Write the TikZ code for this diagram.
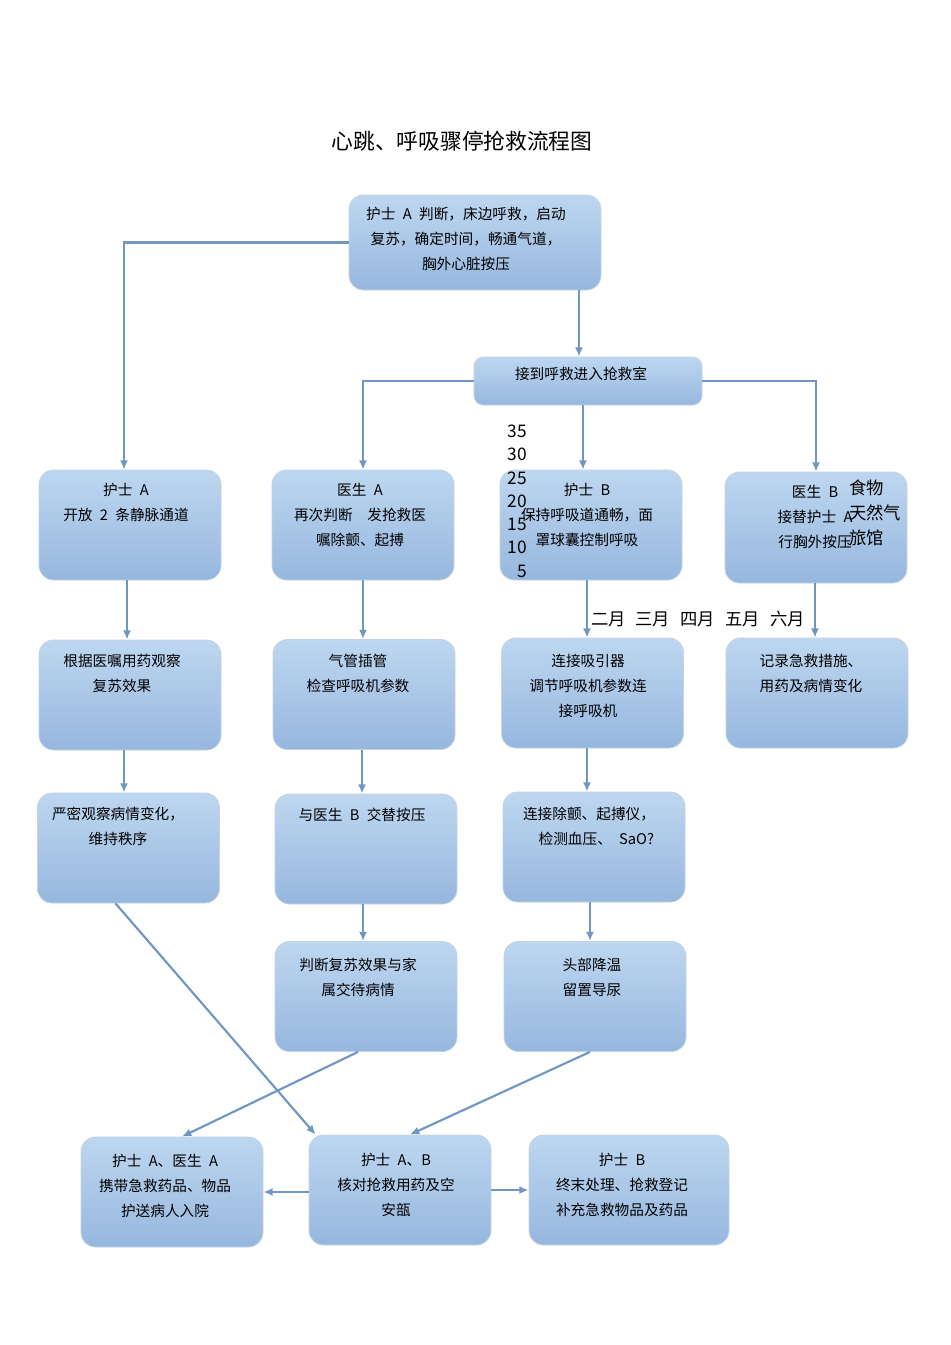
\documentclass[tikz,border=0pt]{standalone}
\usepackage{fontspec}
\setmainfont{Noto Sans CJK SC}
\usepackage{tikz}
\usetikzlibrary{arrows.meta,calc}

\definecolor{boxtop}{RGB}{190,215,240}
\definecolor{boxbot}{RGB}{150,183,222}
\definecolor{boxline}{RGB}{196,210,228}
\definecolor{arrline}{RGB}{112,150,194}

\tikzset{
  box/.style={draw=boxline,line width=0.6pt,rounded corners=11pt,top color=boxtop,bottom color=boxbot,
    minimum width=136.5pt,minimum height=82.5pt,inner sep=0pt},
  txt/.style={anchor=north,inner sep=0pt,align=center,font=\fontsize{11}{18.75}\selectfont},
  arr/.style={draw=arrline,line width=1.6pt,-{Latex[length=7pt,width=6pt]}},
  junk/.style={inner sep=0pt,font=\fontsize{13}{15}\selectfont}
}

\begin{document}
\begin{tikzpicture}[x=0.75pt,y=0.75pt,yscale=-1,xscale=1]
\useasboundingbox (0,0) rectangle (950,1345);
\fill[white] (0,0) rectangle (950,1345);

% Title
\node[inner sep=0pt,font=\fontsize{16.3}{18}\selectfont] (title) at (462,141) {心跳、呼吸骤停抢救流程图};

%Boxes
\node[box,minimum width=189pt,minimum height=71.25pt] (top) at (475,242.5) {};
\node[box,minimum width=171pt,minimum height=36pt,rounded corners=7pt] (mid) at (588,381) {};

\node[box] (a1) at (130,525) {};
\node[box] (b1) at (363,525) {};
\node[box] (c1) at (591,525) {};
\node[box,minimum height=83.25pt] (d1) at (816,527.5) {};

\node[box] (a2) at (130,695) {};
\node[box] (b2) at (364,694.5) {};
\node[box] (c2) at (592.5,693) {};
\node[box] (d2) at (817,693) {};

\node[box] (a3) at (128.5,848) {};
\node[box] (b3) at (366,849) {};
\node[box] (c3) at (594,847) {};

\node[box] (b4) at (366,996.5) {};
\node[box] (c4) at (595,996.5) {};

\node[box] (e1) at (172,1192) {};
\node[box] (e2) at (400,1190) {};
\node[box,minimum width=150pt] (e3) at (629,1190) {};

% Text Node
\node[txt] (ttop) at (466,207) {护士\enspace A\enspace 判断，床边呼救，启动\\复苏，确定时间，畅通气道，\\胸外心脏按压};
\node[txt] (tmid) at (581,367) {接到呼救进入抢救室};

\node[txt] (ta1) at (126,483) {护士\enspace A\\开放\enspace 2\enspace 条静脉通道};
\node[txt] (tb1) at (360,483) {医生\enspace A\\再次判断\quad 发抢救医\\嘱除颤、起搏};
\node[txt] (tc1) at (587,483) {护士\enspace B\\保持呼吸道通畅，面\\罩球囊控制呼吸};
\node[txt] (td1) at (815,485) {医生\enspace B\\接替护士\enspace A\\行胸外按压};

\node[txt] (ta2) at (122,654) {根据医嘱用药观察\\复苏效果};
\node[txt] (tb2) at (358,654) {气管插管\\检查呼吸机参数};
\node[txt] (tc2) at (588,654) {连接吸引器\\调节呼吸机参数连\\接呼吸机};
\node[txt] (td2) at (811,654) {记录急救措施、\\用药及病情变化};

\node[txt] (ta3) at (118,807) {严密观察病情变化，\\维持秩序};
\node[txt] (tb3) at (362,808) {与医生\enspace B\enspace 交替按压};
\node[txt] (tc3) at (589,807) {连接除颤、起搏仪，\\\quad 检测血压、\enspace SaO?};

\node[txt] (tb4) at (358,958) {判断复苏效果与家\\属交待病情};
\node[txt] (tc4) at (592,958) {头部降温\\留置导尿};

\node[txt] (te1) at (165,1154) {护士\enspace A、医生\enspace A\\携带急救药品、物品\\护送病人入院};
\node[txt] (te2) at (396,1153) {护士\enspace A、B\\核对抢救用药及空\\安瓿};
\node[txt] (te3) at (622,1153) {护士\enspace B\\终末处理、抢救登记\\补充急救物品及药品};

% Stray chart text
\node[junk,anchor=east] (n35) at (527,431) {35};
\node[junk,anchor=east] (n30) at (527,454) {30};
\node[junk,anchor=east] (n25) at (527,478) {25};
\node[junk,anchor=east] (n20) at (527,501) {20};
\node[junk,anchor=east] (n15) at (527,524) {15};
\node[junk,anchor=east] (n10) at (527,547) {10};
\node[junk,anchor=east] (n5) at (527,571) {5};

\node[junk,anchor=west] (m2) at (591,619) {二月};
\node[junk,anchor=west] (m3) at (635,619) {三月};
\node[junk,anchor=west] (m4) at (680,619) {四月};
\node[junk,anchor=west] (m5) at (725,619) {五月};
\node[junk,anchor=west] (m6) at (770,619) {六月};

\node[junk,anchor=west] (k1) at (849,488) {食物};
\node[junk,anchor=west] (k2) at (849,513) {天然气};
\node[junk,anchor=west] (k3) at (849,538) {旅馆};

%Connectors
\draw[arr] (top.west) -| ($(a1.north)+(-6,0)$);
\draw[arr] ($(top.south)+(104,0)$) -- ($(mid.north)+(-9,0)$);
\draw[arr] (mid.west) -| (b1.north);
\draw[arr] ($(mid.south)+(-5,0)$) -- ($(c1.north)+(-8,0)$);
\draw[arr] (mid.east) -| (d1.north);

\draw[arr] ($(a1.south)+(-3,0)$) -- ($(a2.north)+(-3,0)$);
\draw[arr] (b1.south) -- ($(b2.north)+(-1,0)$);
\draw[arr] ($(c1.south)+(-4,0)$) -- ($(c2.north)+(-5.5,0)$);
\draw[arr] ($(d1.south)+(-1,0)$) -- ($(d2.north)+(-2,0)$);

\draw[arr] ($(a2.south)+(-6,0)$) -- ($(a3.north)+(-4.5,0)$);
\draw[arr] ($(b2.south)+(-2,0)$) -- ($(b3.north)+(-4,0)$);
\draw[arr] ($(c2.south)+(-5.5,0)$) -- ($(c3.north)+(-7,0)$);

\draw[arr] ($(b3.south)+(-3,0)$) -- ($(b4.north)+(-3,0)$);
\draw[arr] ($(c3.south)+(-4,0)$) -- ($(c4.north)+(-5,0)$);

\draw[arr] ($(a3.south)+(-13,0)$) -- ($(e2.north west)+(7,0)$);
\draw[arr] ($(b4.south)+(-8,0)$) -- ($(e1.north)+(10,0)$);
\draw[arr] ($(c4.south)+(-5,0)$) -- ($(e2.north)+(10,0)$);

\draw[arr] ($(e2.west)+(0,2)$) -- (e1.east);
\draw[arr] (e2.east) -- (e3.west);

\end{tikzpicture}
\end{document}
